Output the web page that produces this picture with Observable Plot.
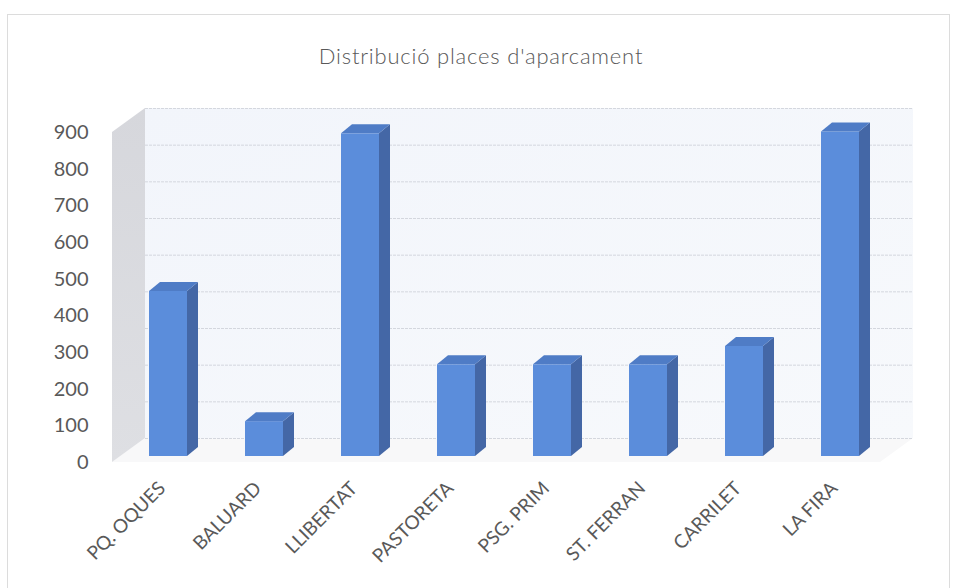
<!DOCTYPE html>
<html><head><meta charset="utf-8">
<script src="https://cdn.jsdelivr.net/npm/d3@7"></script>
<script src="https://cdn.jsdelivr.net/npm/@observablehq/plot@0.6"></script>
<style>
body{margin:0;background:#fff;}
#wrap{position:relative;width:959px;height:588px;overflow:hidden;background:#fff;}
#frame{position:absolute;left:7px;top:14px;width:943px;height:600px;border:1px solid #dcdcdc;box-sizing:border-box;}
#title{position:absolute;left:0;top:42px;width:962px;text-align:center;font-family:Lato,sans-serif;font-weight:300;font-size:22px;letter-spacing:0.8px;color:#595959;}
#chart{position:absolute;left:0;top:0;}
</style></head><body>
<div id="wrap"><div id="frame"></div><div id="title">Distribució places d'aparcament</div><div id="chart"></div></div>
<script>
const categories = ["PQ. OQUES", "BALUARD", "LLIBERTAT", "PASTORETA", "PSG. PRIM", "ST. FERRAN", "CARRILET", "LA FIRA"];
const values = [450, 95, 880, 250, 250, 250, 300, 885];
const yTicks = [0, 100, 200, 300, 400, 500, 600, 700, 800, 900];

const data = categories.map((name, i) => ({name, value: values[i]}));

// 3D look (pixel offsets)
const wallDX = 33, wallDY = -24;
const barDX = 8, barDY = -6;
const capDX = 11, capDY = -9;
const frontColor = "#5b8ddb", sideColor = "#4467a6", topColor = "#4f7cc6";

function walls(index, scales, vals, dims) {
  const {y} = scales;
  const x0 = dims.marginLeft, x1 = dims.width - dims.marginRight;
  const yb = y(yTicks[0]), yt = y(yTicks[yTicks.length - 1]);
  const g = d3.create("svg:g");
  const defs = g.append("defs");
  const bg = defs.append("linearGradient").attr("id", "backGrad").attr("x1", 0).attr("y1", 0).attr("x2", 1).attr("y2", 1);
  bg.append("stop").attr("offset", "0%").attr("stop-color", "#f2f5fb");
  bg.append("stop").attr("offset", "100%").attr("stop-color", "#f7f9fc");
  const sg = defs.append("linearGradient").attr("id", "sideGrad").attr("x1", 0).attr("y1", 0).attr("x2", 0).attr("y2", 1);
  sg.append("stop").attr("offset", "0%").attr("stop-color", "#d6d7dc");
  sg.append("stop").attr("offset", "100%").attr("stop-color", "#dedfe3");
  // floor
  g.append("polygon")
    .attr("points", [[x0, yb], [x1, yb], [x1 + wallDX, yb + wallDY], [x0 + wallDX, yb + wallDY]].join(" "))
    .attr("fill", "#f8f8f9");
  // back wall
  g.append("rect")
    .attr("x", x0 + wallDX).attr("y", yt + wallDY)
    .attr("width", x1 - x0).attr("height", yb - yt)
    .attr("fill", "url(#backGrad)");
  // side wall
  g.append("polygon")
    .attr("points", [[x0, yb], [x0, yt], [x0 + wallDX, yt + wallDY], [x0 + wallDX, yb + wallDY]].join(" "))
    .attr("fill", "url(#sideGrad)");
  return g.node();
}

function barSides(index, scales, vals, dims) {
  const {x, y} = scales;
  const bw = x.bandwidth ? x.bandwidth() : 38;
  const g = d3.create("svg:g");
  for (const d of data) {
    const l = x(d.name) + barDX, r = l + bw;
    const t = y(d.value) + barDY, b = y(0) + barDY;
    g.append("polygon")
      .attr("points", [[r, b], [r, t], [r + capDX, t + capDY], [r + capDX, b + capDY]].join(" "))
      .attr("fill", sideColor);
    g.append("polygon")
      .attr("points", [[l, t], [r, t], [r + capDX, t + capDY], [l + capDX, t + capDY]].join(" "))
      .attr("fill", topColor);
  }
  return g.node();
}

const chart = Plot.plot({
  width: 959,
  height: 588,
  marginLeft: 112,
  marginRight: 79,
  marginTop: 132,
  marginBottom: 126,
  style: {fontFamily: "Lato, sans-serif", fontSize: "20px", color: "#595959", background: "transparent", overflow: "visible"},
  x: {domain: categories, paddingInner: 0.6, paddingOuter: 0.3, axis: null},
  y: {domain: [0, 900], ticks: yTicks, tickSize: 0, tickPadding: 24, label: null},
  marks: [
    walls,
    Plot.ruleY(yTicks, {stroke: "#d4d7de", strokeWidth: 1, strokeDasharray: "3,1", dx: wallDX, dy: wallDY}),
    Plot.barY(data, {x: "name", y: "value", fill: frontColor, dx: barDX, dy: barDY}),
    barSides,
    Plot.text(categories, {x: d => d, frameAnchor: "bottom", rotate: -45, textAnchor: "end", dx: 6, dy: 27, fill: "#595959", fontSize: 19})
  ]
});
document.getElementById("chart").appendChild(chart);
</script>
</body></html>
